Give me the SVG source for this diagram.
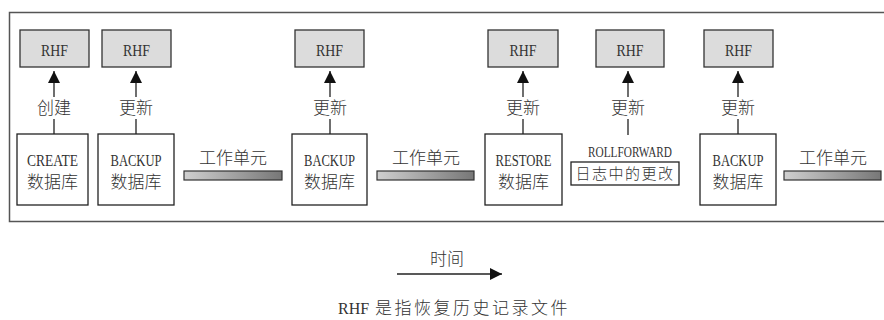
<svg xmlns="http://www.w3.org/2000/svg" width="884" height="320" viewBox="0 0 884 320">
<style>
.frame{fill:none;stroke:#555;stroke-width:1.5}
.rhf{fill:#dcdcdc;stroke:#333;stroke-width:1.3}
.db{fill:#fff;stroke:#222;stroke-width:1.3}
.bar{fill:url(#g);stroke:#333;stroke-width:1.2}
.lat{font-family:"Liberation Serif","Noto Sans CJK SC",serif;fill:#333}
.cjk{font-family:"Noto Sans CJK SC",sans-serif;fill:#333;font-weight:300}
.conn{fill:none;stroke:#222;stroke-width:1.3}
</style>
<defs>
<linearGradient id="g" x1="0" y1="0" x2="1" y2="0">
<stop offset="0" stop-color="#cfcfcf"/>
<stop offset="1" stop-color="#777"/>
</linearGradient>
<marker id="ah" markerUnits="userSpaceOnUse" markerWidth="12" markerHeight="12" refX="12" refY="6" orient="auto">
<path d="M0,0 L12,6 L0,12 z" fill="#111"/>
</marker>
</defs>
<rect class="frame" x="9.5" y="12.5" width="900" height="209"/>

<g id="rhf1"><rect class="rhf" x="20" y="30" width="69" height="37"/><text class="lat" x="54.5" y="56" font-size="17" text-anchor="middle" textLength="27" lengthAdjust="spacingAndGlyphs">RHF</text></g>
<g id="rhf2"><rect class="rhf" x="102" y="30" width="69" height="37"/><text class="lat" x="136.5" y="56" font-size="17" text-anchor="middle" textLength="27" lengthAdjust="spacingAndGlyphs">RHF</text></g>
<g id="rhf3"><rect class="rhf" x="295" y="30" width="69" height="37"/><text class="lat" x="329.5" y="56" font-size="17" text-anchor="middle" textLength="27" lengthAdjust="spacingAndGlyphs">RHF</text></g>
<g id="rhf4"><rect class="rhf" x="488" y="30" width="70" height="37"/><text class="lat" x="523" y="56" font-size="17" text-anchor="middle" textLength="27" lengthAdjust="spacingAndGlyphs">RHF</text></g>
<g id="rhf5"><rect class="rhf" x="596" y="30" width="68" height="37"/><text class="lat" x="630" y="56" font-size="17" text-anchor="middle" textLength="27" lengthAdjust="spacingAndGlyphs">RHF</text></g>
<g id="rhf6"><rect class="rhf" x="704" y="30" width="69" height="37"/><text class="lat" x="738.5" y="56" font-size="17" text-anchor="middle" textLength="27" lengthAdjust="spacingAndGlyphs">RHF</text></g>

<g id="create"><rect class="db" x="17" y="134" width="71" height="71"/><text class="lat" x="52.5" y="166" font-size="16" text-anchor="middle" textLength="51" lengthAdjust="spacingAndGlyphs">CREATE</text><text class="cjk" x="52.5" y="188" font-size="17" text-anchor="middle">数据库</text></g>
<g id="backup1"><rect class="db" x="98" y="134" width="76" height="71"/><text class="lat" x="136" y="166" font-size="16" text-anchor="middle" textLength="51" lengthAdjust="spacingAndGlyphs">BACKUP</text><text class="cjk" x="136" y="188" font-size="17" text-anchor="middle">数据库</text></g>
<g id="backup2"><rect class="db" x="292" y="134" width="75" height="71"/><text class="lat" x="329.5" y="166" font-size="16" text-anchor="middle" textLength="51" lengthAdjust="spacingAndGlyphs">BACKUP</text><text class="cjk" x="329.5" y="188" font-size="17" text-anchor="middle">数据库</text></g>
<g id="restore"><rect class="db" x="485" y="134" width="77" height="71"/><text class="lat" x="523.5" y="166" font-size="16" text-anchor="middle" textLength="56" lengthAdjust="spacingAndGlyphs">RESTORE</text><text class="cjk" x="523.5" y="188" font-size="17" text-anchor="middle">数据库</text></g>
<g id="rollforward"><text class="lat" x="630" y="157" font-size="14" text-anchor="middle" textLength="84" lengthAdjust="spacingAndGlyphs">ROLLFORWARD</text><rect class="db" x="571" y="162" width="108" height="23"/><text class="cjk" x="625" y="179" font-size="15" text-anchor="middle" letter-spacing="1.5">日志中的更改</text></g>
<g id="backup3"><rect class="db" x="700" y="134" width="76" height="71"/><text class="lat" x="738" y="166" font-size="16" text-anchor="middle" textLength="51" lengthAdjust="spacingAndGlyphs">BACKUP</text><text class="cjk" x="738" y="188" font-size="17" text-anchor="middle">数据库</text></g>

<g id="unit1"><text class="cjk" x="233" y="163.5" font-size="17" text-anchor="middle">工作单元</text><rect class="bar" x="184" y="171" width="98" height="9"/></g>
<g id="unit2"><text class="cjk" x="426" y="163.5" font-size="17" text-anchor="middle">工作单元</text><rect class="bar" x="377" y="171" width="97" height="9"/></g>
<g id="unit3"><text class="cjk" x="833" y="163.5" font-size="17" text-anchor="middle">工作单元</text><rect class="bar" x="784" y="171" width="97" height="9"/></g>

<g id="connectors">
<path class="conn" d="M54,134 V119 M54,97 V71" marker-end="url(#ah)"/>
<path class="conn" d="M136,134 V119 M136,97 V71" marker-end="url(#ah)"/>
<path class="conn" d="M330,134 V119 M330,97 V71" marker-end="url(#ah)"/>
<path class="conn" d="M523,134 V119 M523,97 V71" marker-end="url(#ah)"/>
<path class="conn" d="M628,135 V119 M628,97 V71" marker-end="url(#ah)"/>
<path class="conn" d="M738,134 V119 M738,97 V71" marker-end="url(#ah)"/>
<path class="conn" d="M397,274 H502" marker-end="url(#ah)"/>
</g>
<g id="labels">
<text class="cjk" x="54" y="113.5" font-size="17" text-anchor="middle">创建</text>
<text class="cjk" x="136" y="113.5" font-size="17" text-anchor="middle">更新</text>
<text class="cjk" x="330" y="113.5" font-size="17" text-anchor="middle">更新</text>
<text class="cjk" x="523" y="113.5" font-size="17" text-anchor="middle">更新</text>
<text class="cjk" x="628" y="113.5" font-size="17" text-anchor="middle">更新</text>
<text class="cjk" x="738" y="113.5" font-size="17" text-anchor="middle">更新</text>
<text class="cjk" x="447" y="264.5" font-size="17" text-anchor="middle">时间</text>
<text x="338" y="314" font-size="17"><tspan class="lat" font-size="16">RHF </tspan><tspan class="cjk" x="375" letter-spacing="2.5">是指恢复历史记录文件</tspan></text>
</g>
</svg>
